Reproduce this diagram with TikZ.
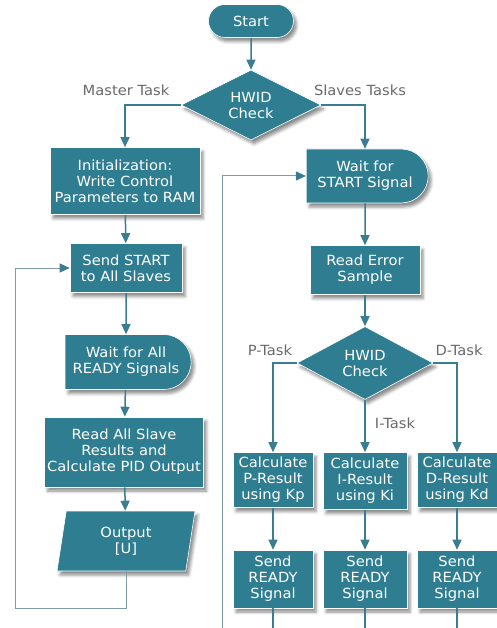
\documentclass[tikz,border=0pt]{standalone}
\usepackage{fontspec}
\setmainfont{DejaVu Sans}[FakeStretch=1.05]
\usetikzlibrary{shapes.geometric,shapes.misc,shadows.blur,arrows.meta}
\definecolor{boxteal}{HTML}{2F7D90}
\definecolor{lineteal}{HTML}{3A7D90}
\definecolor{loopgray}{HTML}{7E9BA6}
\definecolor{labelgray}{HTML}{6A6A6A}
\tikzset{
  block/.style={rectangle, fill=boxteal, draw=white, line width=0.6pt, text=white,
    align=center, font=\fontsize{14}{16}\selectfont, inner sep=1pt,
    blur shadow={shadow xshift=3pt, shadow yshift=-4pt, shadow blur radius=3pt, shadow opacity=45}},
  terminal/.style={block, rounded rectangle},
  waitbox/.style={block, rounded rectangle, rounded rectangle left arc=none},
  decision/.style={block, diamond, aspect=2, inner sep=0pt},
  iobox/.style={block, trapezium, trapezium left angle=73, trapezium right angle=107,
    trapezium stretches body},
  tasklabel/.style={text=labelgray, font=\fontsize{14}{16}\selectfont},
  flow/.style={draw=lineteal, line width=1.5pt, -{Triangle[width=9pt,length=10pt,color=lineteal]}},
  back/.style={draw=loopgray, line width=1pt}
}
\begin{document}
\begin{tikzpicture}[x=1pt, y=-1pt]
  \useasboundingbox (0,0) rectangle (497,628);
  %--- Top
  \node[terminal, minimum width=87pt, minimum height=33pt] (start) at (251,21) {Start};
  \node[decision, minimum width=140pt, minimum height=70pt] (hwid) at (251,105) {HWID\\Check};
  \node[tasklabel] (master) at (126,90) {Master Task};
  \node[tasklabel] (slaves) at (360,90) {Slaves Tasks};
  \draw[flow] (start) -- (hwid);
  %--- Master Task
  \node[block, minimum width=150pt, minimum height=67pt] (init) at (125,181) {Initialization:\\Write Control\\Parameters to RAM};
  \node[block, minimum width=112pt, minimum height=49pt] (sendstart) at (126,268) {Send START\\to All Slaves};
  \node[waitbox, minimum width=128pt, minimum height=55pt] (waitall) at (126,362) {Wait for All\\READY Signals};
  \node[block, minimum width=159pt, minimum height=70pt] (readall) at (124,452) {Read All Slave\\Results and\\Calculate PID Output};
  \node[iobox, minimum width=138pt, minimum height=60pt] (output) at (126,541) {Output\\{[U]}};
  \coordinate (mloop) at (15,608);
  \draw[flow] (hwid.west) -| (init.north);
  \draw[flow] (init) -- (sendstart);
  \draw[flow] (sendstart) -- (waitall);
  \draw[flow] (waitall) -- (readall);
  \draw[flow] (readall) -- (output);
  \draw[back] (output.south) |- (mloop);
  \draw[back, -{Triangle[width=9pt,length=10pt,color=lineteal]}] (mloop) |- (sendstart.west);
  %--- Slaves Tasks
  \node[waitbox, minimum width=124pt, minimum height=54pt] (waitstart) at (365,176) {Wait for\\START Signal};
  \node[block, minimum width=110pt, minimum height=49pt] (readerr) at (365,270) {Read Error\\Sample};
  \node[decision, minimum width=136pt, minimum height=73pt] (hwidt) at (365,363) {HWID\\Check};
  \node[tasklabel] (ptask) at (270,350) {P-Task};
  \node[tasklabel] (dtask) at (459,350) {D-Task};
  \node[tasklabel] (itask) at (395,423) {I-Task};
  \coordinate (sloop) at (222,628);
  \draw[flow] (hwid.east) -| (waitstart.north);
  \draw[flow] (waitstart) -- (readerr);
  \draw[flow] (readerr) -- (hwidt);
  \draw[back, -{Triangle[width=9pt,length=10pt,color=lineteal]}] (sloop) |- (waitstart.west);
  %--- P, I, D
  \node[block, minimum width=80pt, minimum height=55pt] (calcp) at (273,480) {Calculate\\P-Result\\using Kp};
  \node[block, minimum width=84pt, minimum height=57pt] (calci) at (365,481) {Calculate\\I-Result\\using Ki};
  \node[block, minimum width=80pt, minimum height=55pt] (calcd) at (457,480) {Calculate\\D-Result\\using Kd};
  \node[block, minimum width=80pt, minimum height=58pt] (readyp) at (273,579) {Send\\READY\\Signal};
  \node[block, minimum width=84pt, minimum height=58pt] (readyi) at (365,579) {Send\\READY\\Signal};
  \node[block, minimum width=80pt, minimum height=58pt] (readyd) at (457,579) {Send\\READY\\Signal};
  \coordinate (pend) at (273,628);
  \coordinate (iend) at (365,628);
  \coordinate (dend) at (457,628);
  \draw[flow] (hwidt.west) -| (calcp.north);
  \draw[flow] (hwidt.south) -- (calci.north);
  \draw[flow] (hwidt.east) -| (calcd.north);
  \draw[flow] (calcp) -- (readyp);
  \draw[flow] (calci) -- (readyi);
  \draw[flow] (calcd) -- (readyd);
  \draw[draw=lineteal, line width=1.5pt] (readyp) -- (pend);
  \draw[draw=lineteal, line width=1.5pt] (readyi) -- (iend);
  \draw[draw=lineteal, line width=1.5pt] (readyd) -- (dend);
\end{tikzpicture}
\end{document}
